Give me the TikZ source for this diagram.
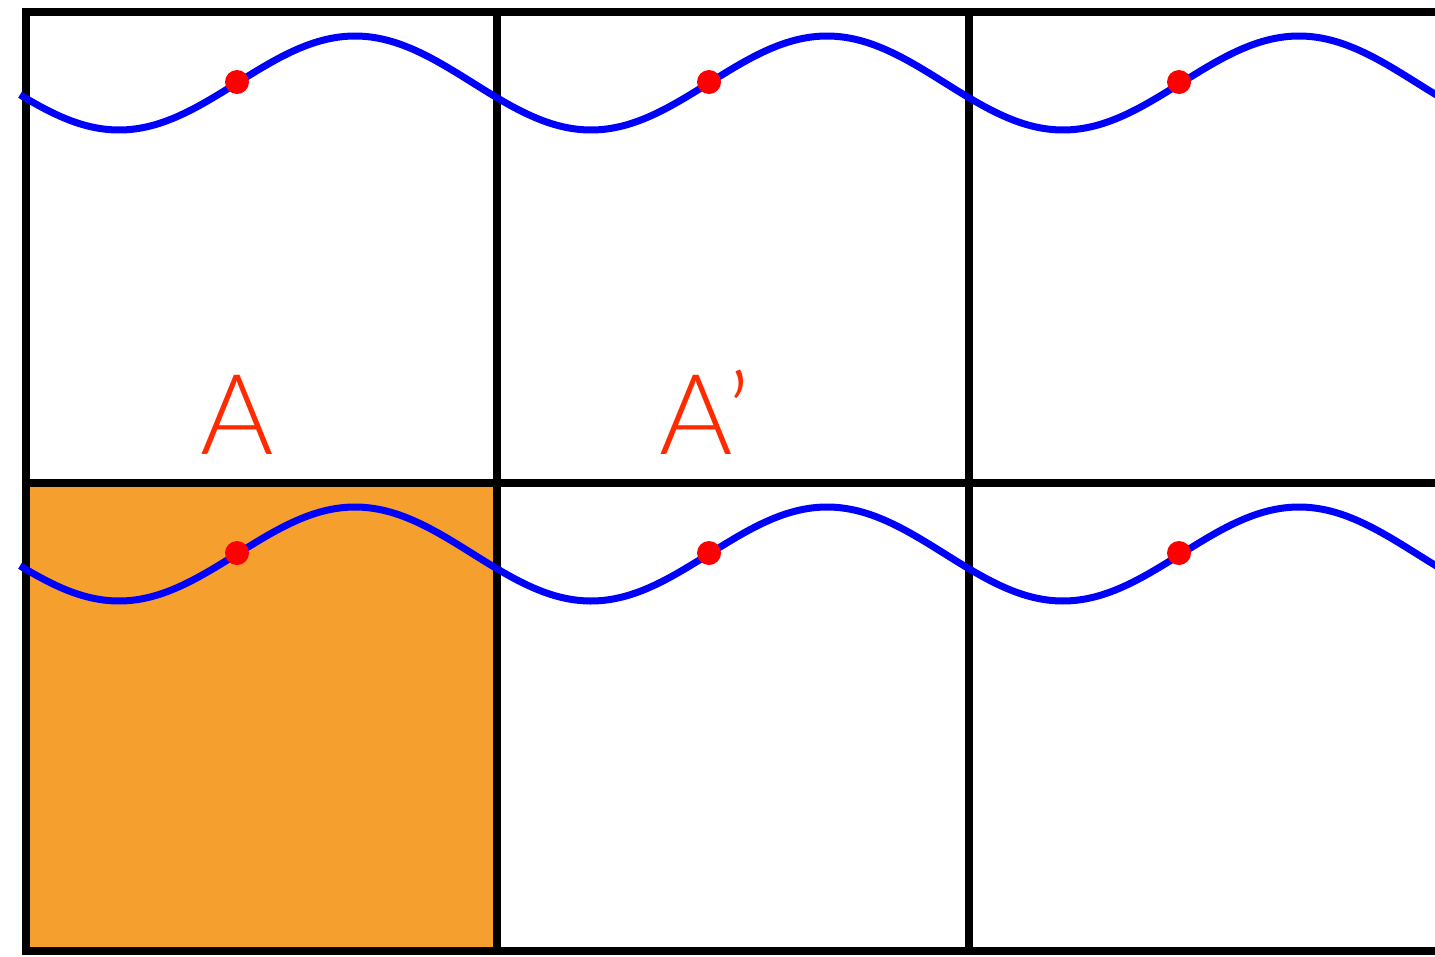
\documentclass[tikz,border=0pt]{standalone}
\usepackage{fontspec}
\setmainfont{Lato}
\newfontfamily\lblfont{Lato Light}
\definecolor{gridorange}{HTML}{F59F2E}
\definecolor{labelred}{HTML}{FF2A00}
\definecolor{waveblue}{HTML}{0000FF}
\definecolor{dotred}{HTML}{FF0000}
\tikzset{
  gridline/.style={line width=8.5pt, black},
  wave/.style={line width=7pt, waveblue, smooth},
  dotmark/.style={circle, fill=dotred, inner sep=0pt, minimum size=24pt},
  lbl/.style={text=labelred, font=\lblfont\fontsize{112}{112}\selectfont, anchor=base, inner sep=0pt}
}
\begin{document}
\begin{tikzpicture}[x=1pt,y=-1pt]
\useasboundingbox (0,0) rectangle (1435,956);
\begin{scope}
\clip (0,0) rectangle (1435,956);
% orange cell
\fill[gridorange] (26,483) rectangle (497,951);
% grid
\draw[gridline] (22,12) -- (1450,12);
\draw[gridline] (22,483) -- (1450,483);
\draw[gridline] (22,951) -- (1450,951);
\draw[gridline] (26,8) -- (26,955);
\draw[gridline] (497,8) -- (497,955);
\draw[gridline] (969,8) -- (969,955);
% waves
\draw[wave] plot[domain=20:1440, samples=240] (\x, {83 - 47*sin(((\x-237)/472)*360)});
\draw[wave] plot[domain=20:1440, samples=240] (\x, {554 - 47*sin(((\x-237)/472)*360)});
\end{scope}
% dots
\node[dotmark] (d1) at (237,82) {};
\node[dotmark] (d2) at (709,82) {};
\node[dotmark] (d3) at (1179,82) {};
\node[dotmark] (d4) at (237,553) {};
\node[dotmark] (d5) at (709,553) {};
\node[dotmark] (d6) at (1179,553) {};
% labels
\node[lbl] (la) at (237,454) {A};
\node[lbl] (lb) at (705,454) {A’};
\end{tikzpicture}
\end{document}
